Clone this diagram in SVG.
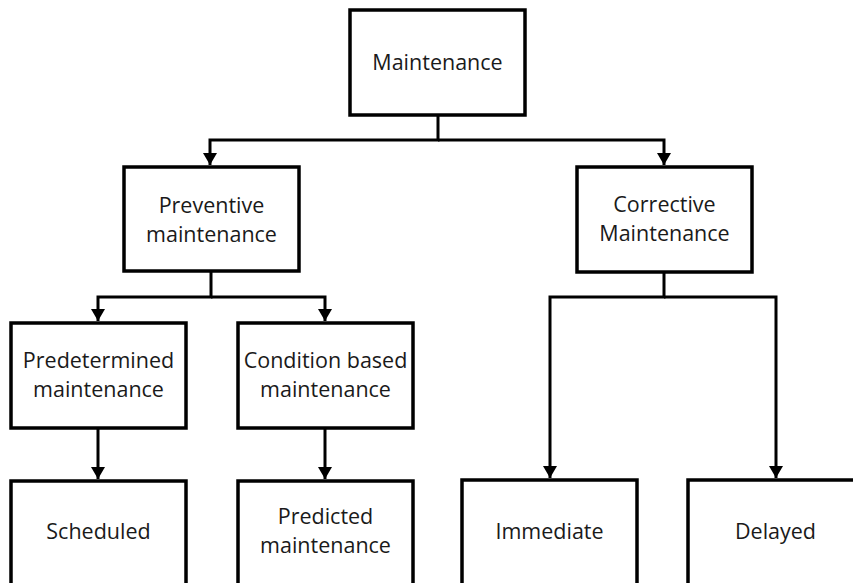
<svg xmlns="http://www.w3.org/2000/svg" width="853" height="583" viewBox="0 0 853 583">
<style>
.box{fill:#fff;stroke:#000;stroke-width:3.5}
.lbl{font-family:"Open Sans","Liberation Sans",sans-serif;font-size:21.5px;fill:#1a1a1a;text-anchor:middle}
.con{fill:none;stroke:#000;stroke-width:3;marker-end:url(#arr)}
</style>
<defs>
<marker id="arr" markerUnits="userSpaceOnUse" markerWidth="14" markerHeight="14" refX="12" refY="7" orient="auto">
<path d="M0,0 L12,7 L0,14 Z" fill="#000"/>
</marker>
</defs>
<rect width="853" height="583" fill="#fff"/>
<g id="connectors">
<path class="con" d="M438,115 V140 H210 V165"/>
<path class="con" d="M438,140 H664 V165"/>
<path class="con" d="M211,271 V297 H98 V321"/>
<path class="con" d="M211,297 H325 V321"/>
<path class="con" d="M98,428 V479"/>
<path class="con" d="M325,428 V479"/>
<path class="con" d="M664,272 V297 H550 V478"/>
<path class="con" d="M664,297 H776 V478"/>
</g>
<g id="maintenance">
<rect class="box" x="350" y="10" width="175" height="105"/>
<text class="lbl" x="437.5" y="70">Maintenance</text>
</g>
<g id="preventive">
<rect class="box" x="124" y="167" width="175" height="104"/>
<text class="lbl" x="211.5" y="213">Preventive</text>
<text class="lbl" x="211.5" y="242">maintenance</text>
</g>
<g id="corrective">
<rect class="box" x="577" y="167" width="175" height="105"/>
<text class="lbl" x="664.5" y="212">Corrective</text>
<text class="lbl" x="664.5" y="241">Maintenance</text>
</g>
<g id="predetermined">
<rect class="box" x="11" y="323" width="175" height="105"/>
<text class="lbl" x="98.5" y="368">Predetermined</text>
<text class="lbl" x="98.5" y="397">maintenance</text>
</g>
<g id="condition">
<rect class="box" x="238" y="323" width="175" height="105"/>
<text class="lbl" x="325.5" y="368">Condition based</text>
<text class="lbl" x="325.5" y="397">maintenance</text>
</g>
<g id="scheduled">
<rect class="box" x="11" y="481" width="175" height="120"/>
<text class="lbl" x="98.5" y="539">Scheduled</text>
</g>
<g id="predicted">
<rect class="box" x="238" y="481" width="175" height="120"/>
<text class="lbl" x="325.5" y="524">Predicted</text>
<text class="lbl" x="325.5" y="553">maintenance</text>
</g>
<g id="immediate">
<rect class="box" x="462" y="480" width="175" height="120"/>
<text class="lbl" x="549.5" y="539">Immediate</text>
</g>
<g id="delayed">
<rect class="box" x="688" y="480" width="175" height="120"/>
<text class="lbl" x="775.5" y="539">Delayed</text>
</g>
</svg>
